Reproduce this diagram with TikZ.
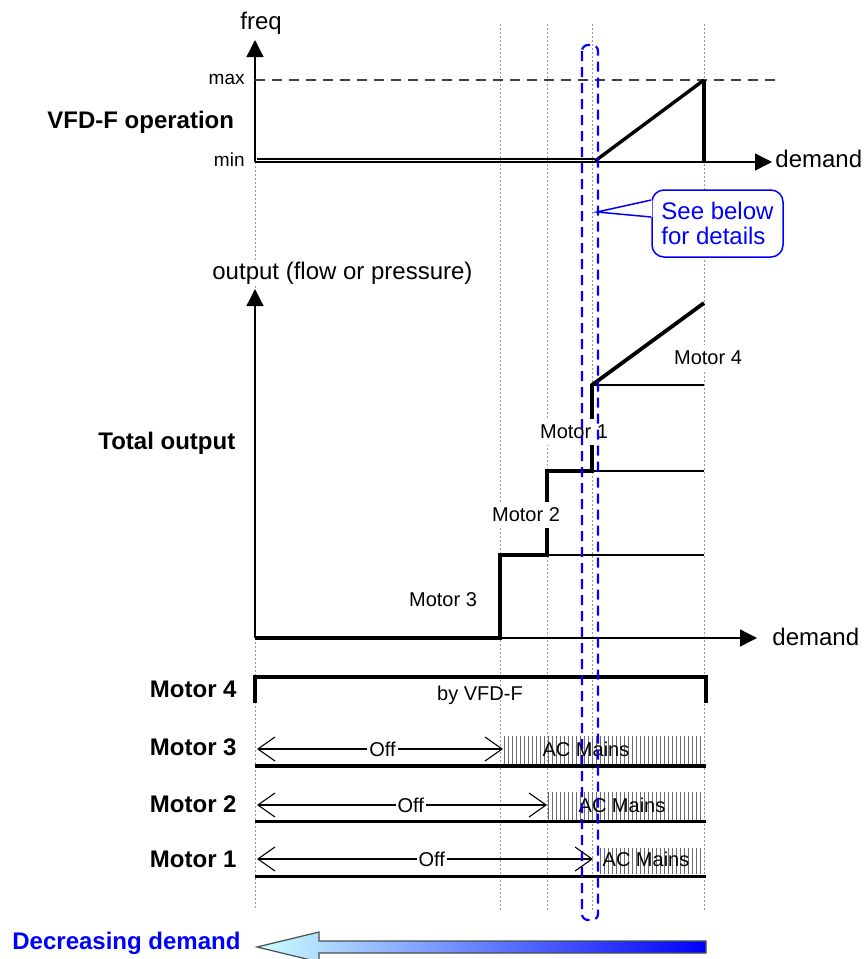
\documentclass[tikz,border=0pt]{standalone}
\usepackage{fontspec}
\setmainfont{Liberation Sans}
\usetikzlibrary{arrows.meta,calc,patterns.meta}
\definecolor{midblue}{RGB}{140,185,255}

\begin{document}
\begin{tikzpicture}[x=0.5pt,y=-0.5pt,inner sep=1pt,
    guide/.style={gray!80, dash pattern=on 1pt off 1pt, line width=0.4pt},
    axis/.style={-{Triangle[length=8.5pt,width=8.5pt]}, line width=0.65pt},
    heavy/.style={line width=1.9pt, line join=miter},
    stepline/.style={line width=0.6pt},
    heading/.style={font=\fontsize{12}{14}\selectfont\bfseries},
    big/.style={font=\fontsize{12}{14}\selectfont},
    small/.style={font=\fontsize{10}{12}\selectfont},
    scalelbl/.style={font=\fontsize{9.5}{11}\selectfont},
    tag/.style={small, fill=white, inner ysep=3pt},
    offspan/.style={{Straight Barb[length=8.5pt,width=12pt]}-{Straight Barb[length=8.5pt,width=12pt]}, line width=0.55pt},
    mains/.style={pattern={Lines[angle=90,distance=2pt,line width=0.35pt]}, pattern color=gray!85!black},
    zoombox/.style={draw=blue, dash pattern=on 5pt off 3pt, line width=1.1pt, rounded corners=3pt},
    calloutbox/.style={draw=blue, line width=0.75pt, rounded corners=6pt, fill=white, text=blue,
        align=left, font=\fontsize{12}{12.5}\selectfont, minimum width=65.5pt, minimum height=33.5pt}
  ]
  \useasboundingbox (0,0) rectangle (867,959);

  % guides
  \foreach \x in {500,547,592,704}
    \draw[guide] (\x,24) -- (\x,910);
  \draw[guide] (255,162) -- (255,910);

  % VFD-F frequency
  \coordinate (fO) at (255,162);
  \draw[axis] (fO) -- (255,40);
  \draw[axis] (fO) -- (772,162);
  \draw[black!75, line width=0.75pt, dash pattern=on 5pt off 3.5pt] (255,80) -- (775,80);
  \draw[line width=1pt] (257,158.5) -- (595,158.5);
  \draw[line width=1.7pt] (595,161) -- (704,80);
  \draw[heavy] (704,80) -- (704,162);
  \node[big, anchor=base west] (freq) at (238,29) {freq};
  \node[scalelbl, anchor=east] (fmax) at (247,79) {max};
  \node[scalelbl, anchor=east] (fmin) at (247,160) {min};
  \node[heading, anchor=base west] (vfd) at (45,128) {VFD-F operation};
  \node[big, anchor=base west] (dem1) at (773,167) {demand};

  % callout
  \coordinate (tip) at (597,212);
  \node[calloutbox] (details) at (717.5,223.5) {See below\\for details};
  \fill[white] ($(details.west)+(1,-23.5)$) -- (tip) -- ($(details.west)+(1,-6.5)$) -- cycle;
  \draw[blue, line width=0.75pt, line join=miter] ($(details.west)+(0,-23.5)$) -- (tip) -- ($(details.west)+(0,-6.5)$);

  % total output
  \coordinate (oO) at (255,638);
  \draw[axis] (oO) -- (255,289);
  \draw[axis] (oO) -- (757,638);
  \node[big, anchor=base west, fill=white] (outlbl) at (210,279) {output (flow or pressure)};
  \node[heading, anchor=base west] (total) at (96,449) {Total output};
  \node[big, anchor=base west] (dem2) at (770,645) {demand};
  \draw[stepline] (500,555) -- (704,555);
  \draw[stepline] (547,471) -- (704,471);
  \draw[stepline] (592,385) -- (704,385);
  \draw[heavy] (255,638) -- (500,638) -- (500,555) -- (547,555) -- (547,471)
    -- (592,471) -- (592,385) -- (704,303);
  \node[tag] (m3) at (443,600) {Motor 3};
  \node[tag] (m2) at (526,515) {Motor 2};
  \node[tag] (m1) at (574,432) {Motor 1};
  \node[tag] (m4) at (708,358) {Motor 4};

  % motor rows
  \node[heading, anchor=east] (row4) at (239,689) {Motor 4};
  \node[heading, anchor=east] (row3) at (239,747) {Motor 3};
  \node[heading, anchor=east] (row2) at (239,804) {Motor 2};
  \node[heading, anchor=east] (row1) at (239,859) {Motor 1};

  \draw[heavy] (255,703) -- (255,677) -- (706,677) -- (706,703);
  \node[small, anchor=base] (byvfd) at (480,700) {by VFD-F};

  \path[mains] (503,736) rectangle (703,763);
  \draw[heavy] (255,766) -- (706,766);
  \draw[offspan] (257,749) -- node[small, fill=white, pos=0.51] (off3) {Off} (503,749);
  \node[small] (ac3) at (586,749) {AC Mains};

  \path[mains] (548,792) rectangle (704,819);
  \draw[line width=1.5pt] (255,821) -- (706,821);
  \draw[offspan] (257,805) -- node[small, fill=white, pos=0.53] (off2) {Off} (547,805);
  \node[small] (ac2) at (622,805) {AC Mains};

  \path[mains] (597,848) rectangle (704,873);
  \draw[line width=1.5pt] (255,876) -- (706,876);
  \draw[offspan] (257,859) -- node[small, fill=white, pos=0.52] (off1) {Off} (593,859);
  \node[small] (ac1) at (646,859) {AC Mains};

  % zoom window
  \draw[zoombox] (582,45) rectangle (598,920);

  % demand arrow
  \shadedraw[left color=cyan!20, middle color=midblue, right color=blue, draw=black!70, line width=0.6pt]
    (706,941) -- (319,941) -- (319,932) -- (257,947) -- (319,962) -- (319,953) -- (706,953) -- cycle;
  \node[heading, text=blue, anchor=base west] (decr) at (10,949) {Decreasing demand};
\end{tikzpicture}
\end{document}
